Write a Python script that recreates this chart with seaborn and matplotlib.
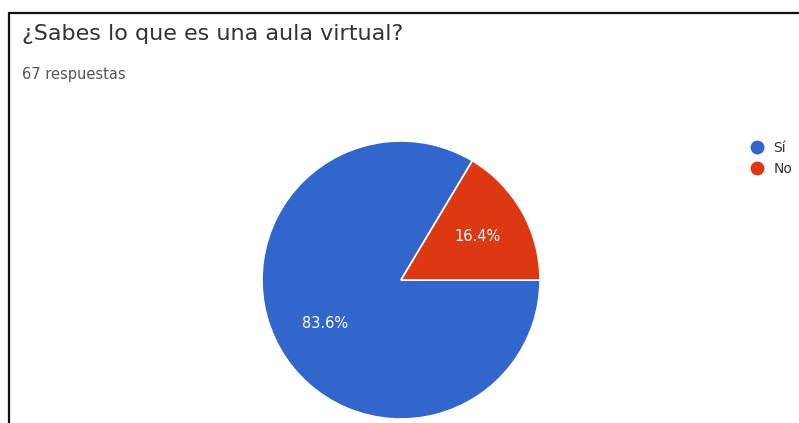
import matplotlib
matplotlib.use("Agg")
import matplotlib.pyplot as plt
from matplotlib.lines import Line2D
import seaborn as sns

categories = ["Sí", "No"]
counts = [56, 11]
total_label = "67 respuestas"
title = "¿Sabes lo que es una aula virtual?"

sns.set_style("white")
plt.rcParams["font.family"] = ["DejaVu Sans"]
colors = ["#3366CC", "#DC3912"]

W, H = 799, 423
fig = plt.figure(figsize=(W / 100, H / 100), dpi=100)
fig.patch.set_facecolor("white")

# frame lines along the top and left edges
fig.add_artist(Line2D([9 / W, 1], [1 - 13 / H, 1 - 13 / H], color="#111111", lw=1.6))
fig.add_artist(Line2D([9 / W, 9 / W], [0, 1 - 13 / H], color="#111111", lw=1.6))

fig.text(22 / W, 1 - 34 / H, title, fontsize=16, color="#333333", va="center", ha="left")
fig.text(22 / W, 1 - 75 / H, total_label, fontsize=10.5, color="#555555", va="center", ha="left")

cx, cy, r = 401, 280, 139
ax = fig.add_axes([(cx - r) / W, (H - cy - r) / H, 2 * r / W, 2 * r / H])
wedges, texts, autotexts = ax.pie(
    counts,
    colors=colors,
    startangle=0,
    counterclock=False,
    autopct="%.1f%%",
    pctdistance=0.63,
    wedgeprops=dict(edgecolor="white", linewidth=1.2),
    textprops=dict(color="white", fontsize=10.5),
)
ax.set_xlim(-1, 1)
ax.set_ylim(-1, 1)
ax.axis("off")

handles = [
    Line2D([], [], marker="o", linestyle="none", markersize=9,
           markerfacecolor=c, markeredgecolor=c)
    for c in colors
]
fig.legend(
    handles,
    categories,
    loc="upper left",
    bbox_to_anchor=(750 / W, 1 - 141 / H),
    frameon=False,
    fontsize=10,
    handlelength=1.0,
    handletextpad=0.7,
    labelspacing=0.5,
    borderaxespad=0,
    borderpad=0,
    labelcolor="#333333",
)

fig.savefig("out.png", dpi=100, facecolor="white")
